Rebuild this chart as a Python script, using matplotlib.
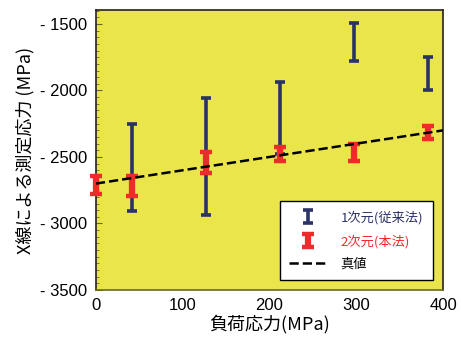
import numpy as np
import matplotlib
matplotlib.use("Agg")
import matplotlib.pyplot as plt
from matplotlib.ticker import MultipleLocator, FuncFormatter

plt.rcParams['font.family'] = ['Noto Sans CJK JP', 'DejaVu Sans']

# 1次元(従来法)
x1 = [42, 127, 212, 297, 383]
lo1 = [-2905, -2935, -2480, -1780, -1995]
hi1 = [-2255, -2060, -1935, -1495, -1750]

# 2次元(本法)
x2 = [0, 42, 127, 212, 297, 383]
lo2 = [-2780, -2795, -2620, -2530, -2530, -2365]
hi2 = [-2640, -2645, -2465, -2425, -2400, -2270]

# 真値
xt = [0, 400]
yt = [-2700, -2300]

blue = '#2b3268'
red = '#ee2b2b'

fig = plt.figure(figsize=(4.61, 3.44), dpi=100)
ax = fig.add_axes([0.208, 0.157, 0.753, 0.814])
ax.set_facecolor('#e9e54b')

c1 = np.array(x1)
m1 = (np.array(lo1) + np.array(hi1)) / 2
e1 = (np.array(hi1) - np.array(lo1)) / 2
eb1 = ax.errorbar(c1, m1, yerr=e1, fmt='none', ecolor=blue, elinewidth=2.6,
                  capsize=3.5, capthick=2.6, zorder=3, label='1次元(従来法)')

c2 = np.array(x2)
m2 = (np.array(lo2) + np.array(hi2)) / 2
e2 = (np.array(hi2) - np.array(lo2)) / 2
eb2 = ax.errorbar(c2, m2, yerr=e2, fmt='none', ecolor=red, elinewidth=4.5,
                  capsize=4.5, capthick=3.2, zorder=4, label='2次元(本法)', clip_on=False)

ln, = ax.plot(xt, yt, '--', color='black', lw=1.8, zorder=5, label='真値')

ax.set_xlim(0, 400)
ax.set_ylim(-3500, -1395)
ax.xaxis.set_major_locator(MultipleLocator(100))
ax.yaxis.set_major_locator(MultipleLocator(500))
ax.yaxis.set_minor_locator(MultipleLocator(50))
ax.yaxis.set_major_formatter(FuncFormatter(lambda v, p: '- %d' % abs(v)))
ax.tick_params(axis='both', which='both', direction='in', labelsize=11, color='#6b6a20')
ax.tick_params(axis='y', which='major', length=4, pad=6)
ax.tick_params(axis='y', which='minor', length=2)
ax.tick_params(axis='x', length=0, pad=6)
for t in ax.get_xticklabels() + ax.get_yticklabels():
    t.set_family(['Liberation Sans', 'DejaVu Sans'])
    t.set_fontsize(12)
for s in ax.spines.values():
    s.set_color('#222222')
    s.set_linewidth(1.2)
ax.spines['bottom'].set_color('#6b6a20')

ax.set_xlabel('負荷応力(MPa)', fontsize=13, labelpad=1)
ax.set_ylabel('X線による測定応力 (MPa)', fontsize=13, labelpad=4)

leg = ax.legend(handles=[eb1, eb2, ln], loc='lower right', bbox_to_anchor=(0.97, 0.035),
                fontsize=9.5, frameon=True, fancybox=False, edgecolor='black',
                framealpha=1, handlelength=2.9, handletextpad=1.0, borderpad=0.7,
                labelspacing=0.75, borderaxespad=0)
leg.get_frame().set_linewidth(1.0)
cols = [blue, red, 'black']
for t, c in zip(leg.get_texts(), cols):
    t.set_color(c)

fig.savefig('out.png', dpi=100)
